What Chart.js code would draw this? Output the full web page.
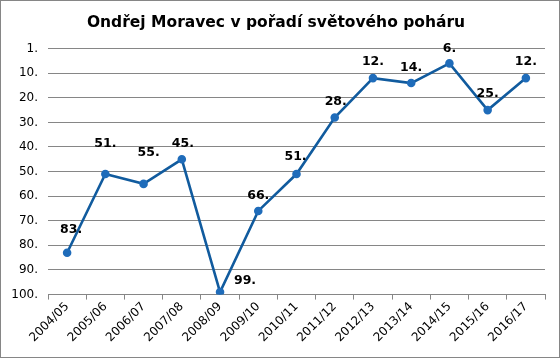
<!DOCTYPE html>
<html>
<head>
<meta charset="utf-8">
<script src="https://cdn.jsdelivr.net/npm/chart.js@4"></script>
<style>
  body { margin: 0; background: #fff; }
  #wrap { width: 558px; height: 356px; border: 1px solid #868686; position: relative; }
</style>
</head>
<body>
<div id="wrap"><canvas id="chart"></canvas></div>
<script>
// chart data
const seasons = ['2004/05', '2005/06', '2006/07', '2007/08', '2008/09', '2009/10', '2010/11',
    '2011/12', '2012/13', '2013/14', '2014/15', '2015/16', '2016/17'];
const ranking = [83, 51, 55, 45, 99, 66, 51, 28, 12, 14, 6, 25, 12];
const yTickLabels = ['1.', '10.', '20.', '30.', '40.', '50.', '60.', '70.', '80.', '90.', '100.'];

// label offsets (dx, dy) relative to each point
const labelOffsets = [[4, -23], [0, -30], [5, -31], [1, -16], [25, -11], [0, -15], [-1, -17],
    [1, -16], [0, -16], [0, -15], [0, -15], [0, -16], [0, -16]];

const pointLabels = {
    id: 'pointLabels',
    afterDatasetsDraw(chart) {
        const ctx = chart.ctx;
        const meta = chart.getDatasetMeta(0);
        ctx.save();
        ctx.font = 'bold 12.5px "DejaVu Sans"';
        ctx.fillStyle = '#000';
        ctx.textAlign = 'center';
        ctx.textBaseline = 'middle';
        meta.data.forEach(function(pt, i) {
            const off = labelOffsets[i];
            ctx.fillText(ranking[i] + '.', pt.x + off[0], pt.y + off[1]);
        });
        ctx.restore();
    }
};

const ctx = document.getElementById('chart').getContext('2d');
new Chart(ctx, {
    type: 'line',
    data: {
        labels: seasons,
        datasets: [{
            data: ranking,
            borderColor: '#115b9e',
            borderWidth: 2.6,
            pointBackgroundColor: '#1f6cba',
            pointBorderColor: '#1f6cba',
            pointRadius: 3,
            tension: 0
        }]
    },
    options: {
        responsive: true,
        maintainAspectRatio: false,
        animation: false,
        layout: { padding: { left: 6, right: 14, top: 5, bottom: 12 } },
        plugins: {
            legend: { display: false },
            tooltip: { enabled: false },
            title: {
                display: true,
                text: 'Ondřej Moravec v pořadí světového poháru',
                color: '#000',
                font: { family: '"DejaVu Sans"', size: 15.5, weight: 'bold' },
                padding: { top: 8, bottom: 16 }
            }
        },
        scales: {
            x: {
                offset: true,
                grid: {
                    display: true,
                    offset: true,
                    drawOnChartArea: false,
                    tickLength: 5,
                    color: '#868686'
                },
                border: { color: '#868686' },
                ticks: {
                    color: '#000',
                    font: { family: '"DejaVu Sans"', size: 12 },
                    maxRotation: 45,
                    minRotation: 45,
                    padding: 0
                }
            },
            y: {
                reverse: true,
                min: 0,
                max: 100,
                grid: { color: '#868686', drawTicks: false },
                border: { display: false },
                afterFit: function(scale) { scale.width = 41; },
                ticks: {
                    stepSize: 10,
                    color: '#000',
                    font: { family: '"DejaVu Sans"', size: 12 },
                    padding: 10,
                    callback: function(value) {
                        return yTickLabels[value / 10];
                    }
                }
            }
        }
    },
    plugins: [pointLabels]
});
</script>
</body>
</html>
